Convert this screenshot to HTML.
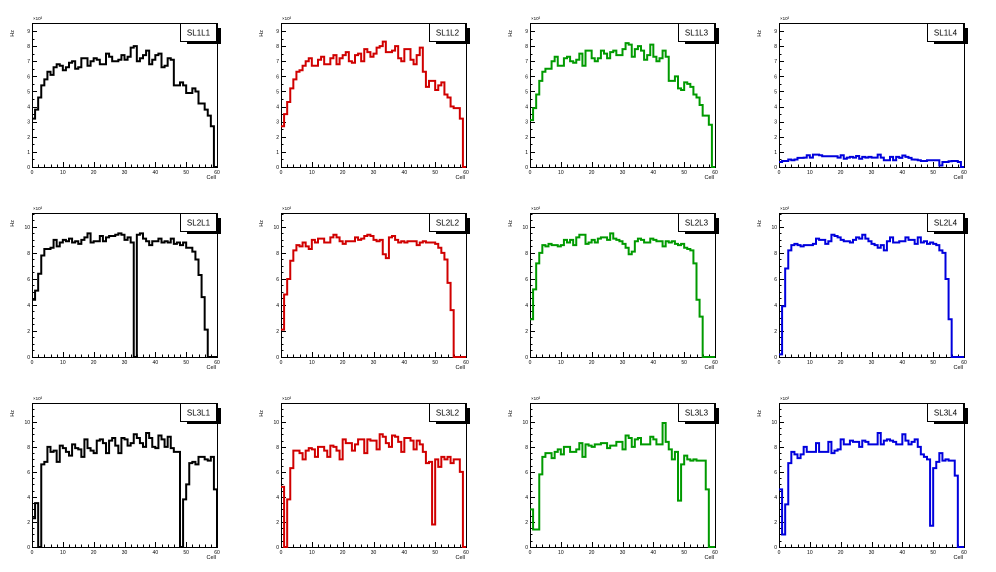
<!DOCTYPE html>
<html><head><meta charset="utf-8"><style>
html,body{margin:0;padding:0;background:#fff;}
svg{display:block;font-family:"Liberation Sans",sans-serif;}
</style></head><body>
<svg id="cv" width="996" height="572" viewBox="0 0 996 572" xmlns="http://www.w3.org/2000/svg"></svg>
<script>
const titles = ["SL1L1","SL1L2","SL1L3","SL1L4","SL2L1","SL2L2","SL2L3","SL2L4","SL3L1","SL3L2","SL3L3","SL3L4"];
const colors = ["#000000","#d00000","#009a00","#0000dd"];
const rowYMax = [9.53, 11.07, 11.5];
const rowYTicks = [[0,1,2,3,4,5,6,7,8,9],[0,2,4,6,8,10],[0,2,4,6,8,10]];
const xTicks = [0,10,20,30,40,50,60];
const SL1L1 = [3.2,3.8,4.6,5.4,5.8,6.3,6.1,6.6,6.8,6.7,6.4,6.6,6.9,7.0,6.5,6.6,7.2,7.2,6.7,7.0,7.2,7.1,6.8,6.8,7.5,7.3,7.0,7.0,7.1,7.4,7.1,7.3,7.9,8.0,7.0,7.2,7.4,7.7,6.8,7.1,7.4,7.5,6.6,6.7,7.2,7.1,5.4,5.4,5.6,5.4,4.9,4.9,5.2,5.0,4.2,4.2,3.8,3.4,2.7,0];
const SL1L2 = [2.7,3.5,4.3,5.2,5.8,6.3,6.4,6.7,7.0,7.2,6.7,6.7,7.1,7.3,6.8,6.8,7.2,7.4,6.8,7.2,7.4,7.6,7.0,6.9,7.4,7.5,7.0,7.8,7.6,7.3,7.5,7.9,8.0,8.3,7.6,7.6,7.7,8.0,7.2,7.0,7.8,7.8,7.1,6.8,7.4,7.9,6.3,5.3,5.7,5.7,5.1,5.4,5.6,4.8,4.6,4.0,3.9,3.9,3.2,0];
const SL1L3 = [3.1,3.9,4.8,5.7,6.3,6.5,6.5,7.0,7.3,6.7,6.7,7.2,7.3,7.0,6.9,7.1,7.5,6.7,7.7,7.7,7.2,7.0,7.2,7.7,7.5,7.2,7.6,7.7,7.4,7.4,7.8,8.2,8.1,7.3,7.8,8.0,7.7,7.1,7.4,8.1,7.3,7.0,7.2,7.7,7.3,5.7,5.7,6.0,5.2,5.1,5.6,5.5,5.3,4.8,4.6,4.1,3.4,3.4,2.8,0];
const SL1L4 = [0.33,0.4,0.4,0.5,0.45,0.5,0.6,0.6,0.62,0.78,0.62,0.82,0.82,0.78,0.71,0.71,0.71,0.71,0.71,0.62,0.78,0.55,0.62,0.67,0.62,0.73,0.55,0.67,0.62,0.67,0.62,0.62,0.82,0.62,0.45,0.45,0.67,0.45,0.67,0.6,0.76,0.67,0.6,0.5,0.49,0.45,0.4,0.4,0.45,0.45,0.45,0.45,0.1,0.33,0.33,0.38,0.4,0.4,0.33,0];
const SL2L1 = [4.4,5.1,6.4,7.8,8.3,8.3,8.4,9.0,8.5,8.8,9.0,8.9,9.1,8.8,8.9,8.7,9.0,9.2,9.5,8.8,8.9,8.9,9.3,8.9,9.2,9.3,9.3,9.4,9.5,9.4,9.0,9.2,8.8,0,9.4,9.5,9.1,8.9,8.6,8.9,8.9,9.1,8.8,8.9,8.8,9.1,8.7,8.8,8.6,8.8,8.4,8.4,8.1,7.5,6.3,4.6,2.1,0,0,0];
const SL2L2 = [2.1,4.8,6.0,7.4,8.2,8.6,8.5,8.8,8.5,8.3,9.0,8.8,9.1,9.1,8.8,8.8,9.2,9.4,9.2,8.9,8.7,8.9,8.9,8.9,9.2,9.0,9.1,9.3,9.4,9.3,9.0,8.9,9.0,7.9,7.6,9.2,9.3,9.0,8.8,8.9,8.8,8.9,8.9,8.9,8.6,8.8,8.9,8.8,8.8,8.8,8.7,8.4,8.0,7.5,5.7,3.6,0,0,0,0];
const SL2L3 = [2.9,5.2,7.2,8.0,8.6,8.5,8.7,8.6,8.6,8.5,8.6,9.0,8.8,9.0,8.6,9.2,9.4,9.4,8.7,8.8,9.0,8.8,9.1,9.2,9.2,9.0,9.5,9.1,9.0,8.9,8.7,8.4,7.9,8.1,8.9,9.1,9.0,8.8,8.8,9.1,9.0,8.9,8.9,8.5,8.9,8.8,8.9,8.7,8.6,8.7,8.4,8.3,8.2,7.2,4.4,3.1,0,0,0,0];
const SL2L4 = [0.2,3.9,6.8,8.2,8.6,8.7,8.6,8.5,8.6,8.6,8.6,8.7,9.1,9.0,9.0,8.7,8.9,9.4,9.3,9.2,9.0,8.9,8.9,8.8,9.0,9.2,9.1,9.4,9.1,8.9,8.7,8.6,8.4,8.6,8.2,8.9,9.2,8.8,8.8,8.9,8.9,9.2,9.0,9.0,8.7,9.2,8.8,8.9,8.7,8.8,8.7,8.6,8.2,8.0,6.0,2.9,0,0,0,0];
const SL3L1 = [2.3,3.5,0,6.6,6.8,8.0,7.6,7.7,6.8,8.1,7.9,7.6,7.3,8.2,7.9,7.8,7.2,8.6,7.9,7.7,7.5,8.5,8.6,8.3,7.5,8.5,8.7,8.1,7.5,8.7,8.6,8.1,8.3,9.0,8.7,8.3,8.0,9.1,8.7,8.0,7.9,8.9,8.6,8.0,8.8,7.9,7.6,7.6,0,3.8,5.0,6.7,6.8,6.6,7.2,7.2,7.0,6.9,7.2,4.6];
const SL3L2 = [4.8,0,3.8,6.3,7.7,7.7,7.5,7.0,7.7,7.9,7.8,7.2,8.0,8.0,7.7,7.2,8.1,8.0,7.7,7.0,8.6,8.3,8.3,7.7,8.2,8.6,8.6,7.5,8.6,8.5,8.5,7.8,9.0,8.8,8.3,8.0,8.9,8.8,8.4,7.6,8.7,8.7,8.5,7.8,8.5,8.2,7.6,6.7,6.8,1.8,7.0,6.4,7.2,7.0,7.2,6.7,7.0,7.0,6.0,0];
const SL3L3 = [3.0,1.4,1.4,5.8,7.2,7.5,7.5,7.1,7.6,7.8,7.4,8.0,8.0,7.6,7.6,7.8,8.3,7.2,8.2,8.1,8.0,8.2,8.2,8.3,8.3,7.9,8.1,8.1,8.4,8.4,7.8,8.9,8.7,8.0,8.6,8.7,8.2,8.2,8.2,8.8,8.6,8.2,8.2,9.9,8.4,7.8,7.0,7.6,3.7,6.6,7.3,7.0,6.9,7.0,6.9,6.9,6.9,4.6,0,0];
const SL3L4 = [4.6,1.0,3.4,6.7,7.6,7.4,7.1,7.4,8.0,7.6,7.6,7.6,8.3,7.6,7.6,7.6,8.4,7.5,7.7,7.8,8.6,8.2,8.2,8.5,8.4,8.4,8.0,8.5,8.4,8.2,8.2,8.2,9.1,8.2,8.5,8.6,8.5,8.4,8.2,8.2,9.0,8.5,8.2,8.4,8.6,8.0,7.4,7.2,7.0,1.7,6.3,6.8,7.5,6.9,7.0,6.9,6.9,5.7,0,0];
const series = [SL1L1,SL1L2,SL1L3,SL1L4,SL2L1,SL2L2,SL2L3,SL2L4,SL3L1,SL3L2,SL3L3,SL3L4];

const NS = "http://www.w3.org/2000/svg";
const cv = document.getElementById("cv");
function mk(tag, attrs, parent){
  const e = document.createElementNS(NS, tag);
  for (const k in attrs) e.setAttribute(k, attrs[k]);
  parent.appendChild(e);
  return e;
}
const FW = 185, FH = 144;
const rowTop = [23, 213, 403];
for (let p = 0; p < 12; p++){
  const r = Math.floor(p/4), c = p % 4;
  const L = 32 + c*249, T = rowTop[r], B = T + FH, R = L + FW;
  const ymax = rowYMax[r];
  const xs = v => L + v/60*FW;
  const ys = v => B - v/ymax*FH;
  const g = mk("g", {}, cv);
  
  
  const fr = mk("rect", {x:L+0.5, y:T+0.5, width:FW, height:FH, fill:"none", stroke:"#000", "stroke-width":1}, g);
  
  
  // x ticks
  let d = "";
  for (let v = 0; v <= 60; v += 2){
    const x = Math.round(xs(v)) + 0.5;
    const len = (v % 10 === 0) ? 5 : 2.5;
    d += `M${x},${B} v${-len} `;
  }
  // y ticks
  const maj = r === 0 ? 1 : 2;
  for (let v = 0; v <= ymax; v += maj/ (r===0?2:4)){
    const y = Math.round(ys(v)) + 0.5;
    const isMaj = Math.abs(v/maj - Math.round(v/maj)) < 1e-6;
    d += `M${L},${y} h${isMaj ? 5 : 2.5} `;
  }
  const tk = mk("path", {d:d, stroke:"#000", "stroke-width":1, fill:"none"}, g);
  
  
  xTicks.forEach(v => {
    const t = mk("text", {x:xs(v), y:B+7, "font-size":5, "text-anchor":"middle", fill:"#000"}, g);
    t.textContent = v;
    
    
  });
  rowYTicks[r].forEach(v => {
    const t = mk("text", {x:L-2, y:ys(v)+2, "font-size":5, "text-anchor":"end", fill:"#000"}, g);
    t.textContent = v;
    
    
  });
  const ex = mk("text", {x:L+1, y:T-3, "font-size":4.5, fill:"#000"}, g);
  ex.textContent = "×10³";
  
  
  const yt = mk("text", {x:0, y:0, "font-size":5.5, fill:"#000", transform:`translate(${L-18},${T+7}) rotate(-90)`, "text-anchor":"end"}, g);
  yt.textContent = "Hz";
  
  
  const xt = mk("text", {x:R-1, y:B+12, "font-size":5.5, "text-anchor":"end", fill:"#000"}, g);
  xt.textContent = "Cell";
  
  
  // histogram
  const vals = series[p];
  let hd = `M${xs(0)},${ys(vals[0])}`;
  for (let i = 0; i < vals.length; i++){
    hd += ` L${xs(i)},${ys(vals[i])} L${xs(i+1)},${ys(vals[i])}`;
  }
  hd += ` L${xs(vals.length)},${ys(0)}`;
  const h = mk("path", {d:hd, fill:"none", stroke:colors[c], "stroke-width":2, "stroke-linejoin":"miter"}, g);
  
  
  // title box with shadow
  const sh = mk("rect", {x:R-30, y:T+5, width:34, height:16, fill:"#000"}, g);
  
  
  const tb = mk("rect", {x:R-36.5, y:T+0.5, width:36, height:18, fill:"#fff", stroke:"#000", "stroke-width":1}, g);
  
  
  const tt = mk("text", {x:R-18.5, y:T+12.5, "font-size":8, "text-anchor":"middle", fill:"#000"}, g);
  tt.textContent = titles[p];
  
  
}
</script>
</body></html>
